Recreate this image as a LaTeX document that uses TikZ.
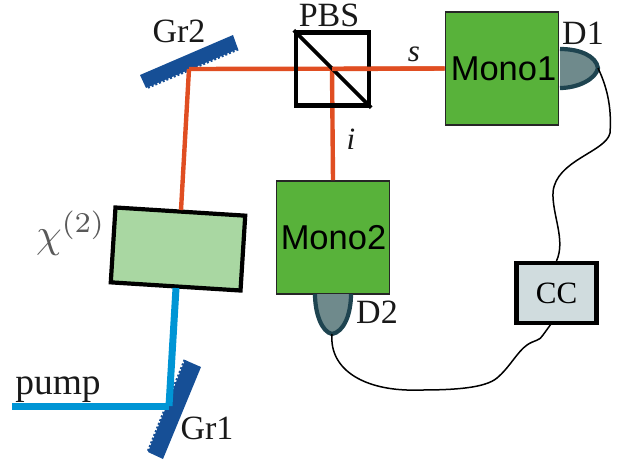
\documentclass[tikz,border=0pt]{standalone}
\usepackage{fontspec}
\setmainfont{Liberation Serif}
\newfontfamily\armo{Liberation Sans}
\usetikzlibrary{calc}
\definecolor{redbeam}{HTML}{E04E22}
\definecolor{bluebeam}{HTML}{0095D5}
\definecolor{grating}{HTML}{164F96}
\definecolor{monogreen}{HTML}{58B23A}
\definecolor{chigreen}{HTML}{A9D7A2}
\definecolor{detfill}{HTML}{6F8A8C}
\definecolor{detline}{HTML}{1E4450}
\definecolor{ccfill}{HTML}{D0DCDE}
\tikzset{
  lab/.style={inner sep=0pt,font=\fontsize{34}{34}\selectfont,text=black!90},
  monobox/.style={draw=black!85,line width=1.8pt,fill=monogreen,minimum width=113pt,minimum height=113pt,inner sep=0pt,font=\armo\fontsize{34.5}{34.5}\selectfont},
  redray/.style={draw=redbeam,line width=4.4pt},
  blueray/.style={draw=bluebeam,line width=7pt},
  gratingbody/.style={fill=grating},
  teeth/.style={draw=grating,line width=3pt,dash pattern=on 2pt off 2pt},
  det/.style={draw=detline,line width=4.2pt,fill=detfill},
  wire/.style={draw=black,line width=1.5pt},
}
\begin{document}
\begin{tikzpicture}[x=1pt,y=-1pt]
\useasboundingbox (0,0) rectangle (623,461);
% coordinates
\coordinate (g2a) at (140,75); \coordinate (g2b) at (233,35);
\coordinate (g2c) at (238,49); \coordinate (g2d) at (146,88);
\coordinate (g1a) at (185,360); \coordinate (g1b) at (201,367);
\coordinate (g1c) at (163,459); \coordinate (g1d) at (148,452);
\coordinate (g2hit) at (189,69);
\coordinate (g1hit) at (169,406);
\coordinate (pumpstart) at (12,406);
\coordinate (split) at (332,69);
% gratings
\fill[gratingbody] (g2a)--(g2b)--(g2c)--(g2d)--cycle;
\draw[teeth] (g2c)--(g2d);
\fill[gratingbody] (g1a)--(g1b)--(g1c)--(g1d)--cycle;
\draw[teeth] (g1a)--(g1d);
% chi box
\node[draw=black,line width=4.2pt,fill=chigreen,minimum width=130pt,minimum height=75pt,rotate=-3.6,inner sep=0pt] (chi) at (178,249) {};
% mono boxes
\node[monobox] (mono1) at (502,68.5) {\hspace*{3pt}Mono1};
\node[monobox] (mono2) at (333,237.5) {\hspace*{1pt}Mono2};
% rays
\draw[redray] (g2hit)--(mono1.west);
\draw[redray] (g2hit)--(181,210);
\draw[redray] (split)--(mono2.north);
\draw[blueray] (pumpstart)--(g1hit);
\draw[blueray] (g1hit)--(176,288);
% PBS
\node[draw=black,line width=4.4pt,minimum size=73pt,inner sep=0pt] (pbs) at (332.5,69) {};
\draw[line width=3.8pt,black] (pbs.north west)--(pbs.south east);
\draw[redray] (split)--(mono1.west);
% detectors
\coordinate (d1tip) at (598,68);
\coordinate (d2tip) at (332,334);
\draw[det] (560,49) .. controls (580,49) and (596,56) .. (d1tip) .. controls (596,79) and (578,88) .. (560,88);
\draw[det] (315,294) .. controls (315,314) and (322,332) .. (d2tip) .. controls (344,332) and (351,314) .. (351,294);
% CC
\node[draw=black,line width=4.2pt,fill=ccfill,minimum width=80pt,minimum height=60pt,inner sep=0pt,font=\fontsize{31}{31}\selectfont] (cc) at (556.5,293) {CC};
% wires
\draw[wire] (d1tip) .. controls (606,85) and (612,105) .. (610,133) .. controls (606,152) and (556,160) .. (553,192) .. controls (552,215) and (566,240) .. (cc.north);
\draw[wire] (d2tip) .. controls (329,370) and (365,392) .. (420,390) .. controls (455,390) and (485,388) .. (497,378) .. controls (510,367) and (517,352) .. (527,345) .. controls (534,340) and (540,341) .. (543,335) -- (551,324);
% labels
\node[lab] (lgr2) at (179,31) {Gr2};
\node[lab] (lpbs) at (329,15) {PBS};
\node[lab] (ld1) at (583,33) {D1};
\node[lab] (ld2) at (377,312) {D2};
\node[lab] (lgr1) at (207,428) {Gr1};
\node[lab,font=\fontsize{37.5}{37.5}\selectfont] (lpump) at (58,390) {pump};
\node[lab,font=\fontsize{31}{31}\selectfont\itshape] (ls) at (414,54) {s};
\node[lab,font=\fontsize{31}{31}\selectfont\itshape] (li) at (351,139) {i};
\node[inner sep=0pt,text=black!65,font=\normalsize,scale=4.1] (lchi) at (71,233) {$\chi^{(2)}$};
\end{tikzpicture}
\end{document}
